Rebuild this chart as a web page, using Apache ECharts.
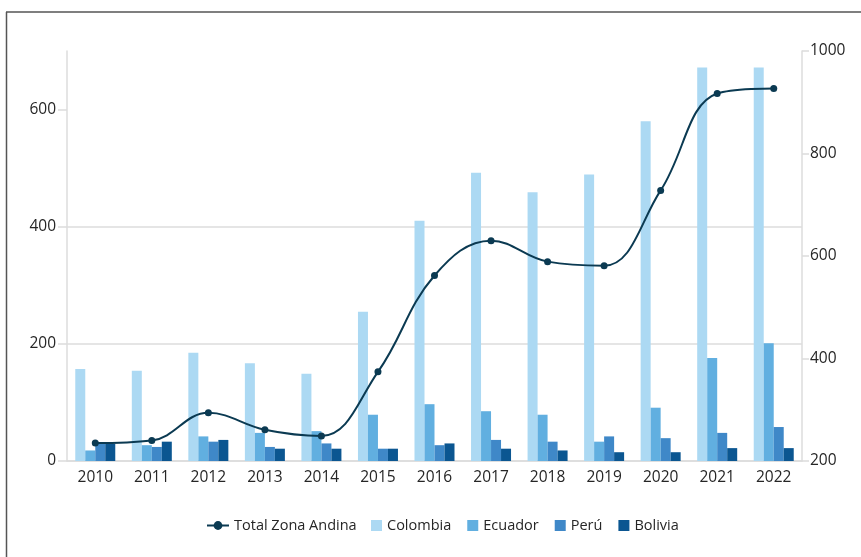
<!DOCTYPE html>
<html>
<head>
<meta charset="utf-8">
<script src="https://cdn.jsdelivr.net/npm/echarts@6/dist/echarts.min.js"></script>
<style>
  html, body { margin: 0; padding: 0; background: #ffffff; }
  #chart { width: 861px; height: 557px; }
</style>
</head>
<body>
<div id="chart"></div>
<script>
// Years on the category axis
const years = ['2010','2011','2012','2013','2014','2015','2016','2017','2018','2019','2020','2021','2022'];

// Bars (left axis)
const colombia = [157, 154, 185, 167, 149, 255, 410, 492, 459, 489, 580, 672, 672];
const ecuador  = [18, 27, 42, 48, 51, 79, 97, 85, 79, 33, 91, 176, 201];
const peru     = [29, 24, 33, 24, 30, 21, 27, 36, 33, 42, 39, 48, 58];
const bolivia  = [29, 33, 36, 21, 21, 21, 30, 21, 18, 15, 15, 22, 22];

// Line (right axis)
const totalZonaAndina = [235, 240, 294, 261, 249, 374, 562, 630, 589, 581, 728, 917, 927];

// Axis tick labels
const leftTicks = [0, 200, 400, 600];
const rightTicks = [200, 400, 600, 800, 1000];

const FONT = '"Open Sans", "Noto Sans", sans-serif';
const TEXT = '#262626';
const GRID = '#dcdcdc';

const chart = echarts.init(document.getElementById('chart'), null, { renderer: 'canvas' });

const barSeries = (name, data, color) => ({
  name, type: 'bar', data, yAxisIndex: 0,
  barWidth: 10, barGap: '0%',
  itemStyle: { color },
  emphasis: { disabled: true }
});

chart.setOption({
  animation: false,
  backgroundColor: '#ffffff',
  textStyle: { fontFamily: FONT, color: TEXT },
  grid: { left: 67, right: 59, top: 51, bottom: 96 },
  legend: [
    {
      data: ['Total Zona Andina'],
      left: 206, top: 518, padding: 0,
      itemWidth: 22, itemHeight: 11, itemGap: 17,
      textStyle: { fontFamily: FONT, fontSize: 14.5, color: TEXT }
    },
    {
      data: ['Colombia', 'Ecuador', 'Perú', 'Bolivia'],
      left: 371, top: 518, padding: 0,
      icon: 'rect',
      itemWidth: 11, itemHeight: 11, itemGap: 16,
      textStyle: { fontFamily: FONT, fontSize: 14.5, color: TEXT }
    }
  ],
  xAxis: {
    type: 'category',
    data: years,
    axisLine: { lineStyle: { color: GRID, width: 1.5 } },
    axisTick: { alignWithLabel: true, length: 6, lineStyle: { color: GRID, width: 1.5 } },
    axisLabel: { fontFamily: FONT, fontSize: 15.5, color: TEXT, margin: 9 }
  },
  yAxis: [
    {
      type: 'value', min: 0, max: 700, interval: 200,
      axisLine: { show: true, lineStyle: { color: GRID, width: 1.5 } },
      axisTick: { show: true, length: 9, customValues: leftTicks, lineStyle: { color: GRID, width: 1.5 } },
      axisLabel: { fontFamily: FONT, fontSize: 15.5, color: TEXT, margin: 11, customValues: leftTicks },
      splitLine: { show: true, showMaxLine: false, lineStyle: { color: GRID, width: 1.5 } }
    },
    {
      type: 'value', min: 200, max: 1000, interval: 200,
      position: 'right',
      axisLine: { show: true, lineStyle: { color: GRID, width: 1.5 } },
      axisTick: { show: true, length: 7, customValues: rightTicks, lineStyle: { color: GRID, width: 1.5 } },
      axisLabel: {
        fontFamily: FONT, fontSize: 15.5, color: TEXT, margin: 8, customValues: rightTicks,
        formatter: (v) => String(v)
      },
      splitLine: { show: false }
    }
  ],
  series: [
    {
      name: 'Total Zona Andina', type: 'line', data: totalZonaAndina, yAxisIndex: 1,
      smooth: 0.4, symbol: 'circle', symbolSize: 7, z: 5,
      lineStyle: { color: '#0b3a52', width: 2 },
      itemStyle: { color: '#0b3a52' },
      emphasis: { disabled: true }
    },
    barSeries('Colombia', colombia, '#acd9f3'),
    barSeries('Ecuador', ecuador, '#61afe0'),
    barSeries('Perú', peru, '#3f88c8'),
    barSeries('Bolivia', bolivia, '#0b5691')
  ],
  graphic: [
    { type: 'line', silent: true, shape: { x1: 6, y1: 12, x2: 861, y2: 12 }, style: { stroke: '#555555', lineWidth: 1.5 } },
    { type: 'line', silent: true, shape: { x1: 6.5, y1: 12, x2: 6.5, y2: 557 }, style: { stroke: '#555555', lineWidth: 1.5 } }
  ]
});
</script>
</body>
</html>
